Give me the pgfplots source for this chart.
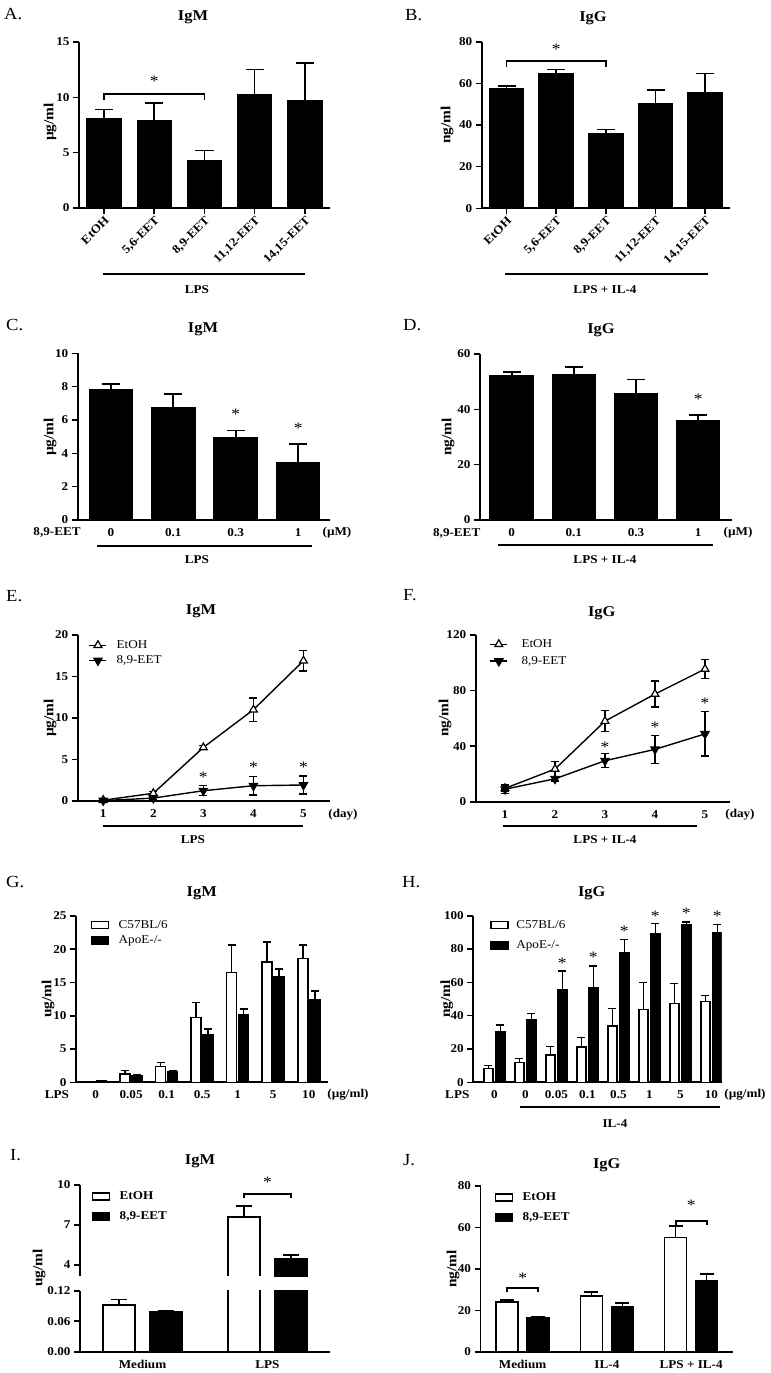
\documentclass[border=0pt]{standalone}
\usepackage{fontspec}
\setmainfont{Liberation Serif}[FakeStretch=1.1]
\usepackage{pgfplots}
\pgfplotsset{compat=1.18}
\newcommand\fTick{\bfseries\fontsize{12}{14}\selectfont}
\newcommand\fTitle{\bfseries\fontsize{15}{17}\selectfont}
\newcommand\fYlab{\bfseries\fontsize{14}{16}\selectfont}
\newcommand\fPanel{\fontsize{17}{19}\selectfont}
\newcommand\fLeg{\fontsize{12}{14}\selectfont}
\newcommand\fLegB{\bfseries\fontsize{12}{14}\selectfont}
\newcommand\fStar{\fontsize{16}{18}\selectfont}
\newcommand\txt[4]{\node[font=#1, inner sep=0pt] at (#2bp,-#3bp) {#4};}
\newcommand\ylab[3]{\node[font=\fYlab, inner sep=0pt, rotate=90] at (#1bp,-#2bp) {#3};}
\newcommand\pan[3]{\node[font=\fPanel, inner sep=0pt, anchor=west] at (#1bp,-#2bp) {#3};}
\newcommand\ul[3]{\draw[line width=2bp] (#1bp,-#3bp) -- (#2bp,-#3bp);}
\pgfplotsset{
 pr/.style={scale only axis, enlargelimits=false, anchor=south west,
   axis x line*=bottom, axis y line*=left,
   axis line style={line width=1.8bp, black},
   tick style={line width=1.6bp, black},
   tick align=outside, major tick length=6bp,
   tick label style={font=\fTick},
   /pgf/number format/assume math mode=true,
   clip mode=individual, ymin=0},
 noxt/.style={xtick style={draw=none}, xticklabel style={anchor=center, yshift=-6.5bp}},
 ebu/.style={/pgfplots/error bars/y dir=plus, /pgfplots/error bars/y explicit,
   /pgfplots/error bars/error bar style={line width=1.6bp, black},
   /pgfplots/error bars/error mark options={line width=1.6bp, black, rotate=90, mark size=#1}},
 ebb/.style={/pgfplots/error bars/y dir=both, /pgfplots/error bars/y explicit,
   /pgfplots/error bars/error bar style={line width=1.4bp, black},
   /pgfplots/error bars/error mark options={line width=1.4bp, black, rotate=90, mark size=#1}},
 barleg/.style={legend image code/.code={\draw[##1, line width=1.5bp] (0bp,-3.5bp) rectangle (17bp,3.5bp);}},
 wbar/.style={fill=white, draw=black, line width=1.5bp, barleg},
 kbar/.style={fill=black, draw=black, line width=1.5bp, barleg},
 ln/.style={black, line width=1.4bp, mark size=4.5bp},
 lgd/.style n args={4}{legend style={at={(axis description cs:#1,#2)}, anchor=north west, draw=none, fill=none, inner sep=0pt, nodes={inner sep=1.5bp}, row sep=#3, /tikz/every odd column/.append style={column sep=#4}}, legend cell align=left},
}
\tikzset{ast/.style={font=\fStar, inner sep=0pt, yshift=-2.5bp}, brk/.style={line width=1.8bp}}
\begin{document}
\begin{tikzpicture}
\useasboundingbox (0,0) rectangle (771bp,-1373bp);
% ---------------- A ----------------
\begin{axis}[pr, at={(79bp,-208bp)}, width=251bp, height=166bp,
 xmin=-0.5, xmax=4.5, ymax=15, ytick={0,5,10,15}, xtick={0,...,4},
 xticklabels={EtOH,{5,6-EET},{8,9-EET},{11,12-EET},{14,15-EET}},
 xticklabel style={rotate=45, anchor=north east, inner sep=1bp},
 ybar, bar width=34bp]
\addplot[kbar, ebu=9bp] table[x index=0,y index=1,y error index=2]{
0 8.1 0.8
1 7.9 1.6
2 4.3 0.9
3 10.2 2.3
4 9.7 3.4
};
\draw[brk] (axis cs:0,9.8) |- (axis cs:2,10.3) -- (axis cs:2,9.8);
\node[ast] at (axis cs:1,11.7) {*};
\end{axis}
\pan{4}{14}{A.}
\txt{\fTitle}{193}{17}{IgM}
\ylab{50}{122}{µg/ml}
\ul{103}{305}{274}
\txt{\fTick}{197}{290}{LPS}
% ---------------- B ----------------
\begin{axis}[pr, at={(481.7bp,-208.3bp)}, width=248.3bp, height=166.6bp,
 xmin=-0.5, xmax=4.5, ymax=80, ytick={0,20,...,80}, xtick={0,...,4},
 xticklabels={EtOH,{5,6-EET},{8,9-EET},{11,12-EET},{14,15-EET}},
 xticklabel style={rotate=45, anchor=north east, inner sep=1bp},
 ybar, bar width=34bp]
\addplot[kbar, ebu=9bp] table[x index=0,y index=1,y error index=2]{
0 57.6 1.1
1 64.7 2.0
2 36.0 1.9
3 50.4 6.3
4 55.4 9.3
};
\draw[brk] (axis cs:0,68) |- (axis cs:2,70.6) -- (axis cs:2,68);
\node[ast] at (axis cs:1,77.5) {*};
\end{axis}
\pan{405}{15}{B.}
\txt{\fTitle}{593}{18}{IgG}
\ylab{447}{125}{ng/ml}
\ul{505}{708}{274}
\txt{\fTick}{605}{290}{LPS + IL-4}
% ---------------- C ----------------
\begin{axis}[pr, noxt, at={(77.7bp,-520bp)}, width=252.3bp, height=166.7bp,
 xmin=-0.53, xmax=3.51, ymax=10, ytick={0,2,...,10}, xtick={0,1,2,3},
 xticklabels={0,0.1,0.3,1}, ybar, bar width=43bp]
\addplot[kbar, ebu=9bp] table[x index=0,y index=1,y error index=2]{
0 7.84 0.32
1 6.74 0.82
2 4.96 0.40
3 3.42 1.14
};
\node[ast] at (axis cs:2,6.5) {*};
\node[ast] at (axis cs:3,5.68) {*};
\end{axis}
\pan{6}{325}{C.}
\txt{\fTitle}{203}{329}{IgM}
\ylab{50}{437}{µg/ml}
\txt{\fTick}{57}{532.3}{8,9-EET}
\txt{\fTick}{337}{532.3}{(µM)}
\ul{97}{312}{545.7}
\txt{\fTick}{197}{560}{LPS}
% ---------------- D ----------------
\begin{axis}[pr, noxt, at={(480bp,-520bp)}, width=251.7bp, height=166bp,
 xmin=-0.51, xmax=3.54, ymax=60, ytick={0,20,40,60}, xtick={0,1,2,3},
 xticklabels={0,0.1,0.3,1}, ybar, bar width=43bp]
\addplot[kbar, ebu=9bp] table[x index=0,y index=1,y error index=2]{
0 52.0 1.6
1 52.4 3.0
2 45.5 5.3
3 35.9 2.0
};
\node[ast] at (axis cs:3,44.6) {*};
\end{axis}
\pan{403}{325}{D.}
\txt{\fTitle}{601}{330}{IgG}
\ylab{448}{437}{ng/ml}
\txt{\fTick}{456.7}{533}{8,9-EET}
\txt{\fTick}{738}{533}{(µM)}
\ul{498}{713}{545}
\txt{\fTick}{605}{560}{LPS + IL-4}
% ---------------- E ----------------
\begin{axis}[pr, noxt, at={(77.7bp,-801bp)}, width=252.3bp, height=166bp,
 xmin=0.49, xmax=5.53, ymax=20, ytick={0,5,...,20}, xtick={1,...,5},
 lgd={0.043}{0.977}{3bp}{8bp}, legend style={font=\fLeg}]
\addplot[ln, mark=triangle*, mark options={fill=white, line width=1.2bp}, ebb=4bp] table[x index=0,y index=1,y error index=2]{
1 0.1 0.1
2 0.93 0.2
3 6.45 0.25
4 11.0 1.4
5 16.9 1.25
};
\addlegendentry{EtOH}
\addplot[ln, mark=triangle*, mark options={fill=black, rotate=180}, ebb=4bp] table[x index=0,y index=1,y error index=2]{
1 0.05 0.05
2 0.35 0.15
3 1.24 0.6
4 1.84 1.1
5 1.93 1.1
};
\addlegendentry{8,9-EET}
\node[ast] at (axis cs:3,3.2) {*};
\node[ast] at (axis cs:4,4.34) {*};
\node[ast] at (axis cs:5,4.34) {*};
\end{axis}
\pan{6}{596}{E.}
\txt{\fTitle}{201}{611.7}{IgM}
\ylab{50}{718}{µg/ml}
\txt{\fTick}{343}{814.3}{(day)}
\ul{103}{303}{826}
\txt{\fTick}{193}{840}{LPS}
% ---------------- F ----------------
\begin{axis}[pr, noxt, at={(475.7bp,-801.7bp)}, width=254.3bp, height=166.7bp,
 xmin=0.414, xmax=5.5, ymax=120, ytick={0,40,80,120}, xtick={1,...,5},
 lgd={0.054}{0.983}{4.5bp}{12bp}, legend style={font=\fLeg}]
\addplot[ln, mark=triangle*, mark options={fill=white, line width=1.2bp}, ebb=4bp] table[x index=0,y index=1,y error index=2]{
1 9.6 2
2 23.5 5.4
3 58 7.5
4 77.5 9.3
5 95.5 6.8
};
\addlegendentry{EtOH}
\addplot[ln, mark=triangle*, mark options={fill=black, rotate=180}, ebb=4bp] table[x index=0,y index=1,y error index=2]{
1 9 3
2 16.5 1.5
3 29.5 5
4 37.7 10
5 48.8 16
};
\addlegendentry{8,9-EET}
\node[ast] at (axis cs:3,40.8) {*};
\node[ast] at (axis cs:4,55.2) {*};
\node[ast] at (axis cs:5,72.7) {*};
\end{axis}
\pan{403}{595}{F.}
\txt{\fTitle}{601.7}{613.3}{IgG}
\ylab{445}{718}{ng/ml}
\txt{\fTick}{740}{814.3}{(day)}
\ul{503}{697}{826}
\txt{\fTick}{605}{840}{LPS + IL-4}
% ---------------- G ----------------
\begin{axis}[pr, noxt, at={(76bp,-1082.3bp)}, width=252.3bp, height=166.3bp,
 xmin=-0.55, xmax=6.55, ymax=25, ytick={0,5,...,25}, xtick={0,...,6},
 xticklabels={0,0.05,0.1,0.5,1,5,10}, ybar=2bp, bar width=10bp,
 lgd={0.0575}{0.985}{3.3bp}{8bp}, legend style={font=\fLeg}]
\addplot[wbar, ebu=4bp] table[x index=0,y index=1,y error index=2]{
0 0.1 0.05
1 1.25 0.5
2 2.35 0.6
3 9.77 2.23
4 16.5 4.1
5 18.1 2.95
6 18.6 2.0
};
\addlegendentry{C57BL/6}
\addplot[kbar, ebu=4bp] table[x index=0,y index=1,y error index=2]{
0 0.25 0.05
1 1.0 0.2
2 1.55 0.15
3 7.2 0.77
4 10.1 0.9
5 15.9 1.1
6 12.4 1.3
};
\addlegendentry{ApoE-/-}
\end{axis}
\pan{6}{882}{G.}
\txt{\fTitle}{201.7}{893.3}{IgM}
\ylab{48}{999}{ug/ml}
\txt{\fTick}{57}{1095}{LPS}
\txt{\fTick}{348}{1095}{(µg/ml)}
% ---------------- H ----------------
\begin{axis}[pr, noxt, at={(473.3bp,-1082.3bp)}, width=248.4bp, height=166.6bp,
 xmin=-0.68, xmax=7.33, ymax=100, ytick={0,20,...,100}, xtick={0,...,7},
 xticklabels={0,0,0.05,0.1,0.5,1,5,10}, ybar=3bp, bar width=9bp,
 lgd={0.068}{0.983}{8.3bp}{6bp}, legend style={font=\fLeg}]
\addplot[wbar, ebu=4bp] table[x index=0,y index=1,y error index=2]{
0 8.4 1.6
1 12 2.4
2 16.4 5
3 21.2 5.8
4 33.8 10.6
5 43.8 16.2
6 47.2 12.2
7 48.4 3.6
};
\addlegendentry{C57BL/6}
\addplot[kbar, ebu=4bp] table[x index=0,y index=1,y error index=2]{
0 30.4 4
1 37.8 3.6
2 55.8 11
3 57 12.8
4 77.8 8
5 89 6.4
6 94.4 2
7 90 4.8
};
\addlegendentry{ApoE-/-}
\node[ast] at (axis cs:2.19,72.8) {*};
\node[ast] at (axis cs:3.19,76.8) {*};
\node[ast] at (axis cs:4.19,92.4) {*};
\node[ast] at (axis cs:5.19,101.4) {*};
\node[ast] at (axis cs:6.19,103) {*};
\node[ast] at (axis cs:7.19,101.4) {*};
\end{axis}
\pan{402}{882}{H.}
\txt{\fTitle}{591.7}{893.3}{IgG}
\ylab{446.7}{999}{ng/ml}
\txt{\fTick}{457.3}{1094.3}{LPS}
\txt{\fTick}{745}{1094.3}{(µg/ml)}
\ul{520}{720}{1106.5}
\txt{\fTick}{615}{1123.3}{IL-4}
% ---------------- I (broken axis) ----------------
\begin{axis}[pr, noxt, at={(80bp,-1351.7bp)}, width=250bp, height=61bp,
 xmin=-0.5, xmax=1.5, ymin=0, ymax=0.12, ytick={0,0.06,0.12},
 yticklabel style={/pgf/number format/.cd, fixed, fixed zerofill, precision=2},
 xtick={0,1}, xticklabels={Medium,LPS}, ybar=14.6bp, bar width=32bp]
\addplot[wbar, ebu=8bp] table[x index=0,y index=1,y error index=2]{
0 0.092 0.011
1 7.58 0.84
};
\addplot[kbar, ebu=8bp] table[x index=0,y index=1,y error index=2]{
0 0.079 0.001
1 4.45 0.27
};
\end{axis}
\begin{axis}[pr, at={(80bp,-1276bp)}, width=250bp, height=91bp,
 axis x line=none, xmin=-0.5, xmax=1.5, ymin=3.15, ymax=10, ytick={4,7,10}, xtick=\empty,
 ybar, lgd={0.046}{0.943}{7.6bp}{8bp}, legend style={font=\fLegB}]
\addlegendimage{wbar}\addlegendentry{EtOH}
\addlegendimage{kbar}\addlegendentry{8,9-EET}
% LPS, EtOH (open bar: black outline layer under a white fill)
\addplot[fill=black, draw=none, bar width=33.5bp, bar shift=-23.3bp, forget plot] table[x index=0,y index=1]{
1 7.636
};
\addplot[fill=white, draw=none, bar width=30.5bp, bar shift=-23.3bp, ebu=8bp, forget plot] table[x index=0,y index=1,y error index=2]{
1 7.524 0.9
};
% LPS, 8,9-EET
\addplot[kbar, bar width=32bp, bar shift=23.3bp, ebu=8bp, forget plot] table[x index=0,y index=1,y error index=2]{
1 4.45 0.27
};
\draw[brk] (axis cs:0.813,9.0) |- (axis cs:1.187,9.3) -- (axis cs:1.187,9.0);
\node[ast] at (axis cs:1,10.4) {*};
\end{axis}
\pan{10}{1155}{I.}
\txt{\fTitle}{200}{1161.7}{IgM}
\ylab{39}{1268}{ug/ml}
% ---------------- J ----------------
\begin{axis}[pr, noxt, at={(480.5bp,-1352bp)}, width=252.8bp, height=166bp,
 xmin=-0.5, xmax=2.5, ymax=80, ytick={0,20,...,80}, xtick={0,1,2},
 xticklabels={Medium,IL-4,LPS + IL-4}, ybar=9bp, bar width=22bp,
 lgd={0.055}{0.969}{7.3bp}{8bp}, legend style={font=\fLegB}]
\addplot[wbar, ebu=7bp] table[x index=0,y index=1,y error index=2]{
0 24.0 1.1
1 27.0 1.8
2 55.2 5.4
};
\addlegendentry{EtOH}
\addplot[kbar, ebu=7bp] table[x index=0,y index=1,y error index=2]{
0 16.6 0.6
1 21.9 1.6
2 34.2 3.4
};
\addlegendentry{8,9-EET}
\draw[brk] (axis cs:-0.184,28.8) |- (axis cs:0.184,30.7) -- (axis cs:0.184,28.8);
\draw[brk] (axis cs:1.816,61.3) |- (axis cs:2.184,63.2) -- (axis cs:2.184,61.3);
\node[ast] at (axis cs:0,36.6) {*};
\node[ast] at (axis cs:2,72.1) {*};
\end{axis}
\pan{403}{1160}{J.}
\txt{\fTitle}{606.7}{1165}{IgG}
\ylab{453}{1269}{ng/ml}
\end{tikzpicture}
\end{document}
